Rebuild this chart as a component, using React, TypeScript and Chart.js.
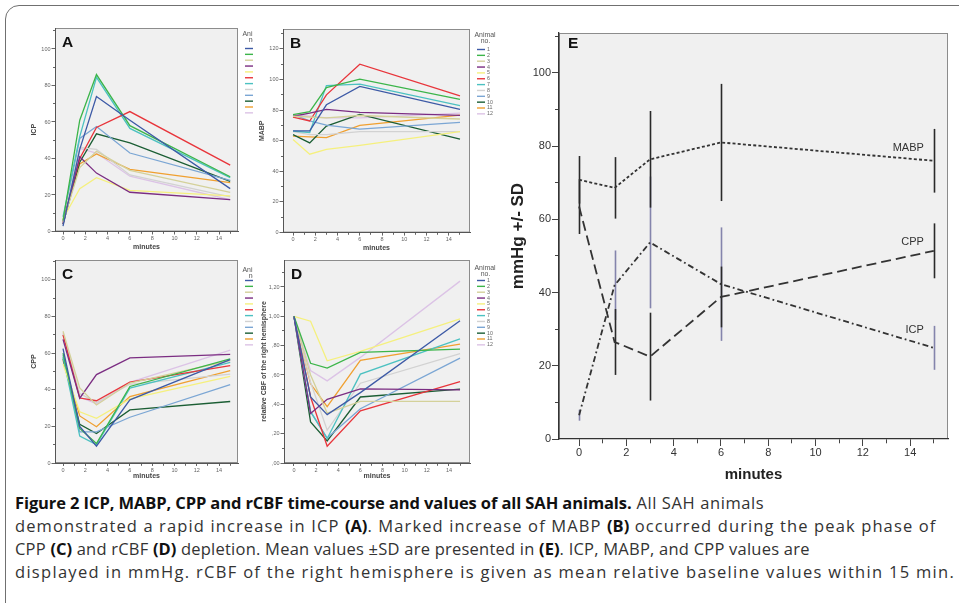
import React, { useEffect, useRef } from "react";
import { Chart, registerables } from "chart.js";
Chart.register(...registerables);

// ---------------- DATA ----------------
const minutes = [0, 1.5, 3, 6, 15];
const animalIds = ["1", "2", "3", "4", "5", "6", "7", "8", "9", "10", "11", "12"];
const animalColors = [
  "#3d5aa6", "#3cb54a", "#d4d19a", "#7b2d82", "#f5f07e", "#e8353b",
  "#4cc1c1", "#d2d2d2", "#7ba6d4", "#1b5e34", "#f0a030", "#dcc3e6",
];

// Panel A: ICP per animal at minutes 0, 1.5, 3, 6, 15
const icpValues = [
  [3, 45, 74, 61, 23.5],
  [6, 61, 86, 58, 30],
  [5, 35, 44, 33.5, 21.5],
  [4, 41, 32, 21.5, 17.5],
  [7, 23.5, 29.5, 22.5, 19.5],
  [5, 40, 57, 65.7, 36.4],
  [8, 52, 84.5, 56.5, 29.5],
  [6, 46, 45, 31, 19],
  [5, 51, 57.5, 43, 28],
  [4, 38, 53.5, 48.5, 27.5],
  [6, 37, 42.5, 34, 26.8],
  [5, 45.5, 43, 30.3, 17.4],
];
// Panel B: MABP
const mabpValues = [
  [66.5, 66.5, 83.5, 95.5, 80.5],
  [77, 79, 94.7, 100.2, 87],
  [76, 75.5, 75, 76.5, 74.2],
  [76, 78, 80.5, 78.6, 76.6],
  [60.8, 51.2, 54.3, 57, 65.9],
  [75.5, 72.9, 90, 110, 89.3],
  [66.3, 65.4, 96, 97, 83],
  [66, 64, 64, 66, 66],
  [77, 73, 70.2, 67.6, 72],
  [64, 58.6, 69.6, 77.2, 61],
  [63, 62.5, 62, 70, 76.8],
  [77, 76, 75, 75, 78],
];
// Panel C: CPP
const cppValues = [
  [62.5, 20, 9.2, 34.5, 56.5],
  [60, 18.9, 10.6, 41.8, 56.9],
  [72, 41, 31.7, 43.7, 56],
  [67.5, 35.4, 48.3, 57.4, 59.3],
  [54, 28, 24.4, 35, 47.3],
  [70, 35.5, 34, 44.2, 53.2],
  [58, 14.7, 10, 40.9, 55],
  [70, 38, 33, 43, 48.5],
  [59, 17, 17, 25, 42.8],
  [57, 21.1, 16.1, 29, 33.6],
  [56.1, 25.7, 19.8, 36.3, 50.5],
  [71, 36, 32.3, 44, 61.7],
];
// Panel D: relative CBF of the right hemisphere
const cbfValues = [
  [1, 0.45, 0.33, 0.48, 0.97],
  [1, 0.68, 0.647, 0.754, 0.777],
  [1, 0.6, 0.34, 0.42, 0.42],
  [1, 0.338, 0.434, 0.505, 0.498],
  [1, 0.967, 0.697, 0.761, 0.983],
  [1, 0.45, 0.114, 0.356, 0.555],
  [1, 0.35, 0.167, 0.606, 0.846],
  [1, 0.55, 0.224, 0.544, 0.745],
  [1, 0.35, 0.17, 0.37, 0.715],
  [1, 0.28, 0.15, 0.45, 0.503],
  [1, 0.54, 0.384, 0.7, 0.81],
  [1, 0.63, 0.56, 0.72, 1.24],
];
// Panel E: means and SDs
const seriesNames = ["MABP", "CPP", "ICP"];
const meanMABP = [70.8, 68.6, 76.4, 81, 76];
const sdMABP = [6.5, 8.4, 13.2, 16, 8.7];
const meanCPP = [63.5, 26.5, 22.5, 38.8, 51.4];
const sdCPP = [7.5, 9, 12, 8.3, 7.5];
const meanICP = [6.5, 42, 53.7, 42.3, 24.9];
const sdICP = [1.5, 9.5, 18, 15.5, 6];

// ---------------- STYLE ----------------
const FONT = '"Liberation Sans", Arial, sans-serif';
const PLOT_BG = "#f0f0f0";

type SmallCfg = {
  letter: string;
  left: number; top: number; width: number; height: number;
  yAxisW: number; padTop: number; padRight: number; xAxisH: number;
  xMin: number; xMax: number;
  yMin: number; yMax: number; yStep: number; yLabelEvery: number;
  yFmt: (v: number) => string;
  yTitle: string; yTitlePad: number; xTitlePad: number; legendDy: number;
  values: number[][];
};

function frameDecor(letter: string, dx: number, dy: number, size: number) {
  return {
    id: "frameDecor",
    beforeDraw(chart: any) {
      const { ctx, chartArea: a } = chart;
      ctx.save();
      ctx.fillStyle = PLOT_BG;
      ctx.fillRect(a.left, a.top, a.right - a.left, a.bottom - a.top);
      ctx.strokeStyle = "#8c8c8c";
      ctx.lineWidth = 1;
      ctx.strokeRect(a.left + 0.5, a.top + 0.5, a.right - a.left - 1, a.bottom - a.top - 1);
      ctx.restore();
    },
    afterDatasetsDraw(chart: any) {
      const { ctx, chartArea: a } = chart;
      ctx.save();
      ctx.fillStyle = "#111";
      ctx.font = `bold ${size}px ${FONT}`;
      ctx.textAlign = "left";
      ctx.textBaseline = "middle";
      ctx.fillText(letter, a.left + dx, a.top + dy);
      ctx.restore();
    },
  };
}

function legendDecor(dy: number) {
  return {
    id: "animalLegend",
    afterDraw(chart: any) {
      const { ctx, chartArea: a } = chart;
      const x0 = a.right + 4.5;
      const t0 = a.top + dy;
      ctx.save();
      ctx.fillStyle = "#555";
      ctx.textBaseline = "middle";
      ctx.font = `6.9px ${FONT}`;
      ctx.textAlign = "left";
      ctx.fillText("Animal", x0, t0 + 6);
      ctx.textAlign = "center";
      ctx.fillText("no.", x0 + 11, t0 + 12.5);
      ctx.font = `5.3px ${FONT}`;
      ctx.textAlign = "left";
      chart.data.datasets.forEach((ds: any, i: number) => {
        const y = a.top + 20.5 + i * 5.85;
        ctx.strokeStyle = ds.borderColor;
        ctx.lineWidth = 1.4;
        ctx.beginPath();
        ctx.moveTo(x0 + 2.5, y);
        ctx.lineTo(x0 + 10.5, y);
        ctx.stroke();
        ctx.fillStyle = "#666";
        ctx.fillText(ds.label, x0 + 12.5, y);
      });
      ctx.restore();
    },
  };
}

function smallConfig(cfg: SmallCfg): any {
  const datasets = cfg.values.map((vals, i) => ({
    label: animalIds[i],
    data: vals.map((v, j) => ({ x: minutes[j], y: v })),
    borderColor: animalColors[i],
    backgroundColor: animalColors[i],
    borderWidth: 1.3,
    pointRadius: 0,
    tension: 0,
    fill: false,
  }));
  const tickFont = { family: FONT, size: 5.5 };
  return {
    type: "line",
    data: { datasets },
    options: {
      animation: false,
      responsive: false,
      maintainAspectRatio: false,
      events: [],
      layout: { padding: { top: cfg.padTop, right: cfg.padRight, left: 0, bottom: 0 } },
      plugins: { legend: { display: false }, tooltip: { enabled: false }, title: { display: false } },
      scales: {
        x: {
          type: "linear",
          min: cfg.xMin,
          max: cfg.xMax,
          afterFit: (s: any) => { s.height = cfg.xAxisH; },
          afterBuildTicks: (s: any) => {
            s.ticks = s.ticks.filter((t: any) => Number.isInteger(t.value) && t.value >= 0 && t.value <= 15);
          },
          ticks: {
            stepSize: 1,
            includeBounds: false,
            autoSkip: false,
            maxRotation: 0,
            padding: 1,
            color: "#666",
            font: tickFont,
            callback: (v: any) => (Number(v) % 2 === 0 && Number(v) <= 14 ? String(v) : ""),
          },
          grid: {
            drawOnChartArea: false,
            tickLength: 3,
            color: "#666",
            tickBorderDash: (c: any) => (c.tick && c.tick.value % 2 !== 0 ? [1.8, 50] : []),
          },
          border: { display: true, color: "#555", width: 1 },
          title: {
            display: true,
            text: "minutes",
            color: "#444",
            font: { family: FONT, size: 7, weight: "bold" },
            padding: { top: 0, bottom: cfg.xTitlePad },
          },
        },
        y: {
          type: "linear",
          min: cfg.yMin,
          max: cfg.yMax,
          afterFit: (s: any) => { s.width = cfg.yAxisW; },
          afterBuildTicks: (s: any) => {
            s.ticks = s.ticks.filter((t: any) => t.value >= cfg.yMin - 1e-9 && t.value <= cfg.yMax);
          },
          ticks: {
            stepSize: cfg.yStep,
            includeBounds: false,
            autoSkip: false,
            padding: 1,
            color: "#666",
            font: tickFont,
            callback: (v: any) => {
              const k = Math.round(Number(v) / cfg.yStep);
              return k % cfg.yLabelEvery === 0 ? cfg.yFmt(Number(v)) : "";
            },
          },
          grid: {
            drawOnChartArea: false,
            tickLength: 3.5,
            color: "#666",
            tickBorderDash: (c: any) => {
              if (!c.tick) return [];
              const k = Math.round(c.tick.value / cfg.yStep);
              return k % cfg.yLabelEvery !== 0 ? [0, 1.5, 2, 50] : [];
            },
          },
          border: { display: true, color: "#555", width: 1 },
          title: {
            display: true,
            text: cfg.yTitle,
            color: "#444",
            font: { family: FONT, size: 7, weight: "bold" },
            padding: { top: cfg.yTitlePad, bottom: 0 },
          },
        },
      },
    },
    plugins: [frameDecor(cfg.letter, 7, 15, 15.5), legendDecor(cfg.legendDy)],
  };
}

const intFmt = (v: number) => String(Math.round(v));
const commaFmt = (v: number) => {
  const s = v.toFixed(2).replace(".", ",");
  return s.startsWith("0") ? s.slice(1) : s;
};

const panelA: SmallCfg = {
  letter: "A", left: 20, top: 20, width: 240, height: 233,
  yAxisW: 35, padTop: 8, padRight: 22, xAxisH: 21.5,
  xMin: -0.72, xMax: 15.7, yMin: 0, yMax: 111.5, yStep: 10, yLabelEvery: 2, yFmt: intFmt,
  yTitle: "ICP", yTitlePad: 10, xTitlePad: 2, legendDy: 0, values: icpValues,
};
const panelB: SmallCfg = {
  letter: "B", left: 253, top: 20, width: 252, height: 233,
  yAxisW: 30, padTop: 9, padRight: 35, xAxisH: 20.4,
  xMin: -0.9, xMax: 15.9, yMin: 0, yMax: 133, yStep: 10, yLabelEvery: 2, yFmt: intFmt,
  yTitle: "MABP", yTitlePad: 4.5, xTitlePad: 0.5, legendDy: 0, values: mabpValues,
};
const panelC: SmallCfg = {
  letter: "C", left: 20, top: 253, width: 240, height: 232,
  yAxisW: 35, padTop: 7, padRight: 22, xAxisH: 22,
  xMin: -0.72, xMax: 15.7, yMin: 0, yMax: 110.9, yStep: 10, yLabelEvery: 2, yFmt: intFmt,
  yTitle: "CPP", yTitlePad: 10, xTitlePad: 5, legendDy: 4, values: cppValues,
};
const panelD: SmallCfg = {
  letter: "D", left: 253, top: 253, width: 252, height: 232,
  yAxisW: 31, padTop: 7, padRight: 35, xAxisH: 22,
  xMin: -0.9, xMax: 15.9, yMin: 0, yMax: 1.384, yStep: 0.1, yLabelEvery: 2, yFmt: commaFmt,
  yTitle: "relative CBF of the right hemisphere", yTitlePad: 7, xTitlePad: 5, legendDy: 2, values: cbfValues,
};

// ---------------- PANEL E ----------------
const eMeans = [meanMABP, meanCPP, meanICP];
const eSds = [sdMABP, sdCPP, sdICP];
const eDash = [[3, 2.2], [10, 5], [6, 3, 1.8, 3]];
const eBarColors = ["#2a2a2a", "#2a2a2a", "#8484ac"];
const eLabelDy = [-13, -9, -18];

const errorBarPlugin = {
  id: "errorBars",
  beforeDatasetsDraw(chart: any) {
    const { ctx } = chart;
    const xs = chart.scales.x;
    const ys = chart.scales.y;
    ctx.save();
    ctx.lineWidth = 1.6;
    [2, 1, 0].forEach((si) => {
      ctx.strokeStyle = eBarColors[si];
      minutes.forEach((t, j) => {
        const x = Math.round(xs.getPixelForValue(t)) + 0.5;
        ctx.beginPath();
        ctx.moveTo(x, ys.getPixelForValue(eMeans[si][j] - eSds[si][j]));
        ctx.lineTo(x, ys.getPixelForValue(eMeans[si][j] + eSds[si][j]));
        ctx.stroke();
      });
    });
    ctx.restore();
  },
  afterDatasetsDraw(chart: any) {
    const { ctx } = chart;
    const xs = chart.scales.x;
    const ys = chart.scales.y;
    ctx.save();
    ctx.fillStyle = "#333";
    ctx.font = `11px ${FONT}`;
    ctx.textAlign = "right";
    ctx.textBaseline = "middle";
    const last = minutes.length - 1;
    seriesNames.forEach((n, si) => {
      ctx.fillText(n, xs.getPixelForValue(minutes[last]) - 10, ys.getPixelForValue(eMeans[si][last]) + eLabelDy[si]);
    });
    ctx.restore();
  },
};

function eConfig(): any {
  const datasets = seriesNames.map((n, si) => ({
    label: n,
    data: eMeans[si].map((v, j) => ({ x: minutes[j], y: v })),
    borderColor: "#333",
    borderWidth: 1.8,
    borderDash: eDash[si],
    pointRadius: 0,
    tension: 0,
    fill: false,
  }));
  const tickFont = { family: FONT, size: 11 };
  return {
    type: "line",
    data: { datasets },
    options: {
      animation: false,
      responsive: false,
      maintainAspectRatio: false,
      events: [],
      layout: { padding: { top: 13, right: 7, left: 0, bottom: 0 } },
      plugins: { legend: { display: false }, tooltip: { enabled: false }, title: { display: false } },
      scales: {
        x: {
          type: "linear",
          min: -0.85,
          max: 15.6,
          afterFit: (s: any) => { s.height = 51; },
          afterBuildTicks: (s: any) => {
            s.ticks = s.ticks.filter((t: any) => Number.isInteger(t.value) && t.value >= 0 && t.value <= 15);
          },
          ticks: {
            stepSize: 1,
            includeBounds: false,
            autoSkip: false,
            maxRotation: 0,
            padding: 0.5,
            color: "#333",
            font: tickFont,
            callback: (v: any) => (Number(v) % 2 === 0 && Number(v) <= 14 ? String(v) : ""),
          },
          grid: {
            drawOnChartArea: false,
            tickLength: 7,
            color: "#444",
            tickBorderDash: (c: any) => (c.tick && c.tick.value % 2 !== 0 ? [4, 100] : []),
          },
          border: { display: true, color: "#333", width: 1.3 },
          title: {
            display: true,
            text: "minutes",
            color: "#222",
            font: { family: FONT, size: 15, weight: "bold" },
            padding: { top: 0, bottom: 6 },
          },
        },
        y: {
          type: "linear",
          min: 0,
          max: 110.9,
          afterFit: (s: any) => { s.width = 61; },
          afterBuildTicks: (s: any) => {
            s.ticks = s.ticks.filter((t: any) => t.value >= 0 && t.value <= 110.9);
          },
          ticks: {
            stepSize: 10,
            includeBounds: false,
            autoSkip: false,
            padding: 1,
            color: "#333",
            font: tickFont,
            callback: (v: any) => (Math.round(Number(v)) % 20 === 0 ? String(v) : ""),
          },
          grid: {
            drawOnChartArea: false,
            tickLength: 7,
            color: "#444",
            tickBorderDash: (c: any) => (c.tick && Math.round(c.tick.value) % 20 !== 0 ? [0, 3, 4, 100] : []),
          },
          border: { display: true, color: "#333", width: 1.3 },
          title: {
            display: true,
            text: "mmHg +/- SD",
            color: "#222",
            font: { family: FONT, size: 17, weight: "bold" },
            padding: { top: 9.8, bottom: 0 },
          },
        },
      },
    },
    plugins: [frameDecor("E", 9, 10.5, 15.5), errorBarPlugin],
  };
}

// ---------------- COMPONENTS ----------------
function ChartCanvas(props: { left: number; top: number; width: number; height: number; make: () => any }) {
  const ref = useRef<HTMLCanvasElement>(null);
  useEffect(() => {
    const chart = new Chart(ref.current as HTMLCanvasElement, props.make());
    return () => chart.destroy();
  }, []);
  return (
    <canvas
      ref={ref}
      width={props.width}
      height={props.height}
      style={{
        position: "absolute",
        left: props.left,
        top: props.top,
        width: props.width,
        height: props.height,
        background: "#fff",
      }}
    />
  );
}

function Small({ cfg }: { cfg: SmallCfg }) {
  return <ChartCanvas left={cfg.left} top={cfg.top} width={cfg.width} height={cfg.height} make={() => smallConfig(cfg)} />;
}

const captionStyle: React.CSSProperties = {
  position: "absolute",
  left: 15,
  top: 491,
  fontFamily: '"Open Sans", "Noto Sans", sans-serif',
  fontSize: 16.5,
  lineHeight: "23px",
  color: "#333",
  whiteSpace: "nowrap",
};
const boldStyle: React.CSSProperties = { color: "#111", letterSpacing: 0 };

export default function App() {
  return (
    <div style={{ position: "fixed", left: 0, top: 0, width: 959, height: 603, background: "#fff", overflow: "hidden" }}>
      <div
        style={{
          position: "absolute", left: 5, top: 5, width: 1000, height: 700,
          border: "1.5px solid #707070", borderRadius: 14, boxSizing: "border-box",
        }}
      />
      <Small cfg={panelA} />
      <Small cfg={panelB} />
      <Small cfg={panelC} />
      <Small cfg={panelD} />
      <ChartCanvas left={498} top={20} width={457} height={470} make={eConfig} />
      <div style={captionStyle}>
        <div style={{ letterSpacing: 0.6 }}>
          <b style={{ ...boldStyle, letterSpacing: -0.1 }}>Figure 2 ICP, MABP, CPP and rCBF time-course and values of all SAH animals.</b> All SAH animals
        </div>
        <div style={{ letterSpacing: 1.12 }}>
          demonstrated a rapid increase in ICP <b style={boldStyle}>(A)</b>. Marked increase of MABP <b style={boldStyle}>(B)</b> occurred during the peak phase of
        </div>
        <div style={{ letterSpacing: 0.23 }}>
          CPP <b style={boldStyle}>(C)</b> and rCBF <b style={boldStyle}>(D)</b> depletion. Mean values ±SD are presented in <b style={boldStyle}>(E)</b>. ICP, MABP, and CPP values are
        </div>
        <div style={{ letterSpacing: 1.3 }}>
          displayed in mmHg. rCBF of the right hemisphere is given as mean relative baseline values within 15 min.
        </div>
      </div>
    </div>
  );
}
